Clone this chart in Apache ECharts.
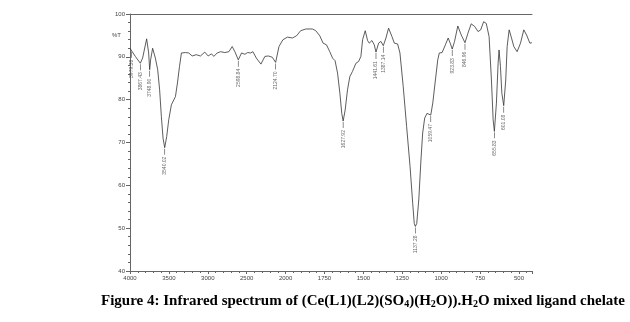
<!DOCTYPE html>
<html lang="en">
<head>
    <meta charset="UTF-8">
    <title>IR spectrum</title>
    <script src="https://cdn.jsdelivr.net/npm/echarts@6/dist/echarts.min.js"></script>
    <style>
        html, body { margin: 0; padding: 0; background: #fff; }
    </style>
</head>
<body>
<div id="main" style="width: 630px;height:322px;"></div>
<script type="text/javascript">
    // x axis labels (axis is split: 500 per step above 2000, 250 per step below)
    var xTicks = [4000, 3500, 3000, 2500, 2000, 1750, 1500, 1250, 1000, 750, 500];

    // spectrum: wavenumber (cm-1) and %T
    var waveNumbers = [4000, 3996, 3932, 3867, 3838, 3786, 3760, 3747, 3735, 3709, 3674, 3644, 3619, 3597, 3575,
        3554, 3528, 3502, 3468, 3416, 3390, 3364, 3339, 3287, 3245, 3201, 3149, 3094, 3039, 2995,
        2952, 2923, 2879, 2836, 2781, 2729, 2686, 2652, 2608, 2566, 2523, 2488, 2450, 2420, 2376,
        2317, 2266, 2222, 2171, 2128, 2085, 2034, 1988, 1956, 1930, 1903, 1870, 1827, 1806, 1780,
        1759, 1737, 1716, 1698, 1682, 1666, 1651, 1639, 1630, 1617, 1602, 1587, 1570, 1548, 1531,
        1516, 1505, 1488, 1473, 1462, 1445, 1430, 1419, 1402, 1387, 1372, 1355, 1338, 1316, 1301,
        1280, 1265, 1244, 1222, 1200, 1183, 1173, 1166, 1157, 1144, 1130, 1119, 1106, 1091, 1080,
        1067, 1054, 1037, 1022, 1012, 994, 973, 955, 942, 929, 914, 893, 871, 847, 828,
        807, 785, 763, 746, 727, 710, 692, 677, 666, 658, 645, 634, 628, 619, 610,
        598, 585, 576, 563, 548, 533, 512, 490, 469, 451, 430, 417];
    var transmittance = [92.0, 91.6, 90.1, 88.5, 89.7, 94.2, 90.9, 87.0, 89.3, 92.0, 89.7, 87.0, 82.3, 76.1, 71.0,
        68.8, 71.4, 75.3, 78.8, 80.7, 83.9, 87.7, 90.9, 91.0, 90.9, 90.2, 90.5, 90.2, 91.1, 90.2,
        90.7, 90.1, 90.9, 91.2, 91.0, 91.2, 92.4, 91.2, 89.3, 90.9, 90.6, 91.0, 90.9, 91.2, 89.7,
        88.3, 90.1, 90.2, 89.9, 88.7, 92.4, 94.0, 94.6, 94.4, 94.9, 96.1, 96.5, 96.5, 96.1, 94.9,
        93.2, 92.8, 91.2, 89.7, 89.1, 86.2, 81.5, 76.8, 75.0, 77.6, 82.3, 85.4, 86.6, 88.5, 88.9,
        90.1, 94.0, 96.1, 93.8, 93.2, 93.8, 92.8, 91.1, 93.2, 93.6, 92.6, 94.4, 96.7, 94.7, 93.2,
        93.0, 90.9, 83.1, 73.7, 64.4, 55.8, 51.1, 50.4, 51.1, 56.6, 65.9, 72.2, 75.7, 76.8, 77.2,
        76.4, 79.2, 84.6, 89.3, 90.9, 91.0, 92.8, 94.4, 93.2, 91.8, 93.6, 97.2, 95.1, 93.3, 95.5,
        97.7, 97.1, 95.9, 96.3, 98.2, 97.8, 94.7, 84.6, 75.3, 72.6, 79.2, 88.5, 91.6, 87.7, 81.5,
        78.6, 84.6, 92.4, 96.3, 94.4, 92.4, 91.2, 93.2, 96.3, 95.1, 93.2, 93.3];

    // picked peaks: position, %T, printed label
    var peakWave = [3979, 3867, 3747, 3554, 2608, 2128, 1630, 1419, 1372, 1166, 1067, 929, 847, 658, 598];
    var peakT = [91.4, 88.5, 87.0, 68.8, 89.3, 88.7, 75.0, 91.1, 92.6, 50.4, 76.4, 91.8, 93.3, 72.6, 78.6];
    var peakText = ['3979.38', '3867.43', '3748.90', '3540.02', '2598.84', '2124.70', '1627.92', '1441.61',
        '1387.14', '1137.28', '1059.47', '923.83', '846.96', '655.83', '601.08'];

    // position of a wavenumber on the split axis
    function pos(w) {
        return w >= 2000 ? (4000 - w) / 500 : 4 + (2000 - w) / 250;
    }

    var lineData = waveNumbers.map(function (w, i) { return [pos(w), transmittance[i]]; });
    var peakData = peakWave.map(function (w, i) {
        return { value: [pos(w), peakT[i]], name: peakText[i] };
    });

    var axisColor = '#666';
    var labelStyle = { fontFamily: 'Liberation Sans', fontSize: 6, color: '#444' };

    var chart = echarts.init(document.getElementById('main'));
    chart.setOption({
        animation: false,
        grid: { left: 130, right: 98, top: 14, bottom: 51 },
        title: {
            text: 'Figure 4: Infrared spectrum of (Ce(L1)(L2)(SO{s|4})(H{s|2}O)).H{s|2}O mixed ligand chelate',
            left: 101,
            top: 293,
            padding: 0,
            textStyle: {
                fontFamily: 'Liberation Serif',
                fontSize: 15,
                fontWeight: 'bold',
                color: '#000',
                rich: {
                    s: {
                        fontFamily: 'Liberation Serif',
                        fontSize: 10,
                        fontWeight: 'bold',
                        color: '#000',
                        padding: [6, 0, 0, 0]
                    }
                }
            }
        },
        graphic: [{
            type: 'text',
            left: 112,
            top: 32,
            style: { text: '%T', fontFamily: 'Liberation Sans', fontSize: 6, fill: '#444' }
        }],
        xAxis: [{
            type: 'value',
            min: 0,
            max: 10.335,
            interval: 1,
            axisLine: { lineStyle: { color: axisColor, width: 1 } },
            axisTick: { length: 3, lineStyle: { color: axisColor } },
            minorTick: { show: true, splitNumber: 5, length: 2, lineStyle: { color: axisColor } },
            splitLine: { show: false },
            axisLabel: Object.assign({
                margin: 4,
                showMaxLabel: false,
                formatter: function (v) {
                    return (Math.abs(v - Math.round(v)) < 1e-6 && v <= 10) ? String(xTicks[Math.round(v)]) : '';
                }
            }, labelStyle)
        }, {
            type: 'value',
            position: 'top',
            min: 0,
            max: 10.335,
            axisLine: { show: true, lineStyle: { color: axisColor, width: 1 } },
            axisTick: { show: false },
            axisLabel: { show: false },
            splitLine: { show: false }
        }],
        yAxis: {
            type: 'value',
            min: 40,
            max: 100,
            interval: 10,
            axisLine: { show: true, lineStyle: { color: axisColor, width: 1 } },
            axisTick: { show: true, length: 4, lineStyle: { color: axisColor } },
            minorTick: { show: true, splitNumber: 5, length: 2, lineStyle: { color: axisColor } },
            splitLine: { show: false },
            axisLabel: Object.assign({ margin: 5 }, labelStyle)
        },
        series: [{
            type: 'line',
            data: lineData,
            symbol: 'none',
            lineStyle: { color: '#333', width: 0.8 }
        }, {
            type: 'scatter',
            data: peakData,
            symbol: 'rect',
            symbolSize: [0.7, 6],
            symbolOffset: [0, 4],
            itemStyle: { color: '#333' },
            label: {
                show: true,
                formatter: '{b}',
                position: 'bottom',
                distance: 2,
                rotate: 90,
                align: 'right',
                verticalAlign: 'middle',
                fontFamily: 'Liberation Sans',
                fontSize: 5,
                color: '#444'
            }
        }]
    });
</script>
</body>
</html>
